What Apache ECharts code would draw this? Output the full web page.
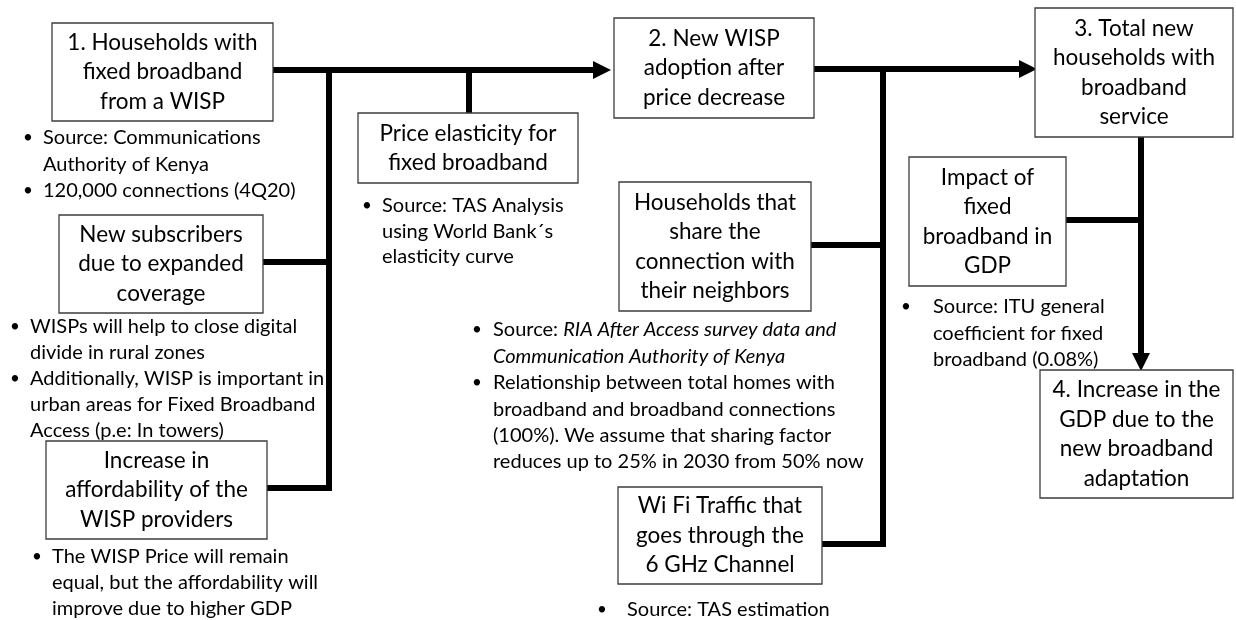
<!DOCTYPE html>
<html>
<head>
<meta charset="utf-8">
<script src="https://cdn.jsdelivr.net/npm/echarts@6/dist/echarts.min.js"></script>
<style>
html,body{margin:0;padding:0;background:#fff;}
#chart{width:1236px;height:620px;}
</style>
</head>
<body>
<div id="chart"></div>
<script>
// ---- content ----
const boxLabels = [
  "1. Households with\nfixed broadband\nfrom a WISP",
  "Price elasticity for\nfixed broadband",
  "New subscribers\ndue to expanded\ncoverage",
  "Increase in\naffordability of the\nWISP providers",
  "2. New WISP\nadoption after\nprice decrease",
  "Households that\nshare the\nconnection with\ntheir neighbors",
  "Wi Fi Traffic that\ngoes through the\n6 GHz Channel",
  "3. Total new\nhouseholds with\nbroadband\nservice",
  "Impact of\nfixed\nbroadband in\nGDP",
  "4. Increase in the\nGDP due to the\nnew broadband\nadaptation"
];
// lines starting with "• " begin a bullet; {i|...} marks italic text
const noteLines = [
  ["• Source: Communications", "Authority of Kenya", "• 120,000 connections (4Q20)"],
  ["• Source: TAS Analysis", "using World Bank´s", "elasticity curve"],
  ["• WISPs will help to close digital", "divide in rural zones", "• Additionally, WISP is important in", "urban areas for Fixed Broadband", "Access (p.e: In towers)"],
  ["• The WISP Price will remain", "equal, but the affordability will", "improve due to higher GDP"],
  ["• Source: {i|RIA After Access survey data and}", "{i|Communication Authority of Kenya}", "• Relationship between total homes with", "broadband and broadband connections", "(100%). We assume that sharing factor", "reduces up to 25% in 2030 from 50% now"],
  ["• Source: ITU general", "coefficient for fixed", "broadband (0.08%)"],
  ["• Source: TAS estimation"]
];

// ---- layout (pixel space of the hidden axes) ----
const boxLayout = [
  [52, 23, 273, 121],
  [358, 113, 578, 183],
  [59, 215, 263, 313],
  [46, 441, 267, 539],
  [614, 18, 814, 118],
  [619, 182, 811, 311],
  [618, 487, 822, 584],
  [1035, 8, 1233, 137],
  [909, 157, 1066, 286],
  [1040, 370, 1233, 498]
];
// [bulletX, textX, firstLineY, lineGap]
const noteLayout = [
  [28, 43, 138, 26.5],
  [367, 382, 206, 25.5],
  [15, 30, 327, 26],
  [37, 52, 557, 26],
  [477, 493, 330, 26.4],
  [906, 933, 307, 26.5],
  [602, 627, 610, 26]
];
const arrowLayout = [
  [[273, 70], [611, 70]],
  [[814, 69], [1037, 69]],
  [[1141, 137], [1141, 371]]
];
const connectorLayout = [
  [[329, 70], [329, 488], [267, 488]],
  [[263, 262], [329, 262]],
  [[469, 70], [469, 113]],
  [[883, 69], [883, 544], [822, 544]],
  [[811, 245], [883, 245]],
  [[1066, 220], [1141, 220]]
];

const FONT = 'Lato, "Open Sans", sans-serif';
const BOX_FS = 22.5;
const BOX_LH = 29.5;
const NOTE_FS = 20;
const HEAD = 18;

// flatten notes into line items
const noteItems = [];
noteLines.forEach((lines, n) => {
  const L = noteLayout[n];
  lines.forEach((t, k) => {
    const bullet = t.indexOf('• ') === 0;
    noteItems.push({ value: [L[1], L[2] + k * L[3]], bulletX: L[0], bullet: bullet, text: bullet ? t.slice(2) : t });
  });
});

// arrows: end point moved back by half head so the tip lands on target
const arrowData = arrowLayout.map(seg => {
  const [a, b] = seg;
  const dx = b[0] - a[0], dy = b[1] - a[1];
  const len = Math.sqrt(dx * dx + dy * dy);
  const e = [b[0] - dx / len * HEAD / 2, b[1] - dy / len * HEAD / 2];
  return { coords: [a, e] };
});

const chart = echarts.init(document.getElementById('chart'), null, { renderer: 'canvas' });
chart.setOption({
  animation: false,
  backgroundColor: '#ffffff',
  grid: { left: 0, right: 0, top: 0, bottom: 0 },
  xAxis: { type: 'value', min: 0, max: 1236, show: false },
  yAxis: { type: 'value', min: 0, max: 620, inverse: true, show: false },
  series: [
    {
      type: 'lines',
      coordinateSystem: 'cartesian2d',
      polyline: true,
      silent: true,
      z: 1,
      lineStyle: { color: '#000', width: 6, opacity: 1, cap: 'square', join: 'miter' },
      data: connectorLayout.map(c => ({ coords: c }))
    },
    {
      type: 'lines',
      coordinateSystem: 'cartesian2d',
      silent: true,
      z: 1,
      symbol: ['none', 'triangle'],
      symbolSize: HEAD,
      lineStyle: { color: '#000', width: 6, opacity: 1 },
      itemStyle: { color: '#000' },
      data: arrowData
    },
    {
      type: 'custom',
      coordinateSystem: 'cartesian2d',
      clip: false,
      silent: true,
      z: 3,
      encode: { x: [0, 2], y: [1, 3] },
      data: boxLayout,
      renderItem: function (params, api) {
        const i = params.dataIndex;
        const p1 = api.coord([api.value(0), api.value(1)]);
        const p2 = api.coord([api.value(2), api.value(3)]);
        return {
          type: 'group',
          children: [
            { type: 'rect', shape: { x: p1[0], y: p1[1], width: p2[0] - p1[0], height: p2[1] - p1[1] },
              style: { fill: '#fff', stroke: '#3c3c3c', lineWidth: 1.3 } },
            { type: 'text', x: (p1[0] + p2[0]) / 2, y: (p1[1] + p2[1]) / 2,
              style: { text: boxLabels[i], align: 'center', verticalAlign: 'middle',
                fontFamily: FONT, fontSize: BOX_FS, lineHeight: BOX_LH, fill: '#000' } }
          ]
        };
      }
    },
    {
      type: 'custom',
      coordinateSystem: 'cartesian2d',
      clip: false,
      silent: true,
      z: 4,
      data: noteItems,
      renderItem: function (params, api) {
        const it = noteItems[params.dataIndex];
        const p = api.coord([api.value(0), api.value(1)]);
        const children = [
          { type: 'text', x: p[0], y: p[1],
            style: { text: it.text, align: 'left', verticalAlign: 'middle',
              fontFamily: FONT, fontSize: NOTE_FS, fill: '#000',
              rich: { i: { fontStyle: 'italic', fontFamily: FONT, fontSize: NOTE_FS, fill: '#000' } } } }
        ];
        if (it.bullet) {
          const pb = api.coord([it.bulletX, api.value(1)]);
          children.push({ type: 'text', x: pb[0], y: pb[1],
            style: { text: '•', align: 'center', verticalAlign: 'middle', fontFamily: FONT, fontSize: NOTE_FS * 0.85, fill: '#000' } });
        }
        return { type: 'group', children: children };
      }
    }
  ]
});
</script>
</body>
</html>
